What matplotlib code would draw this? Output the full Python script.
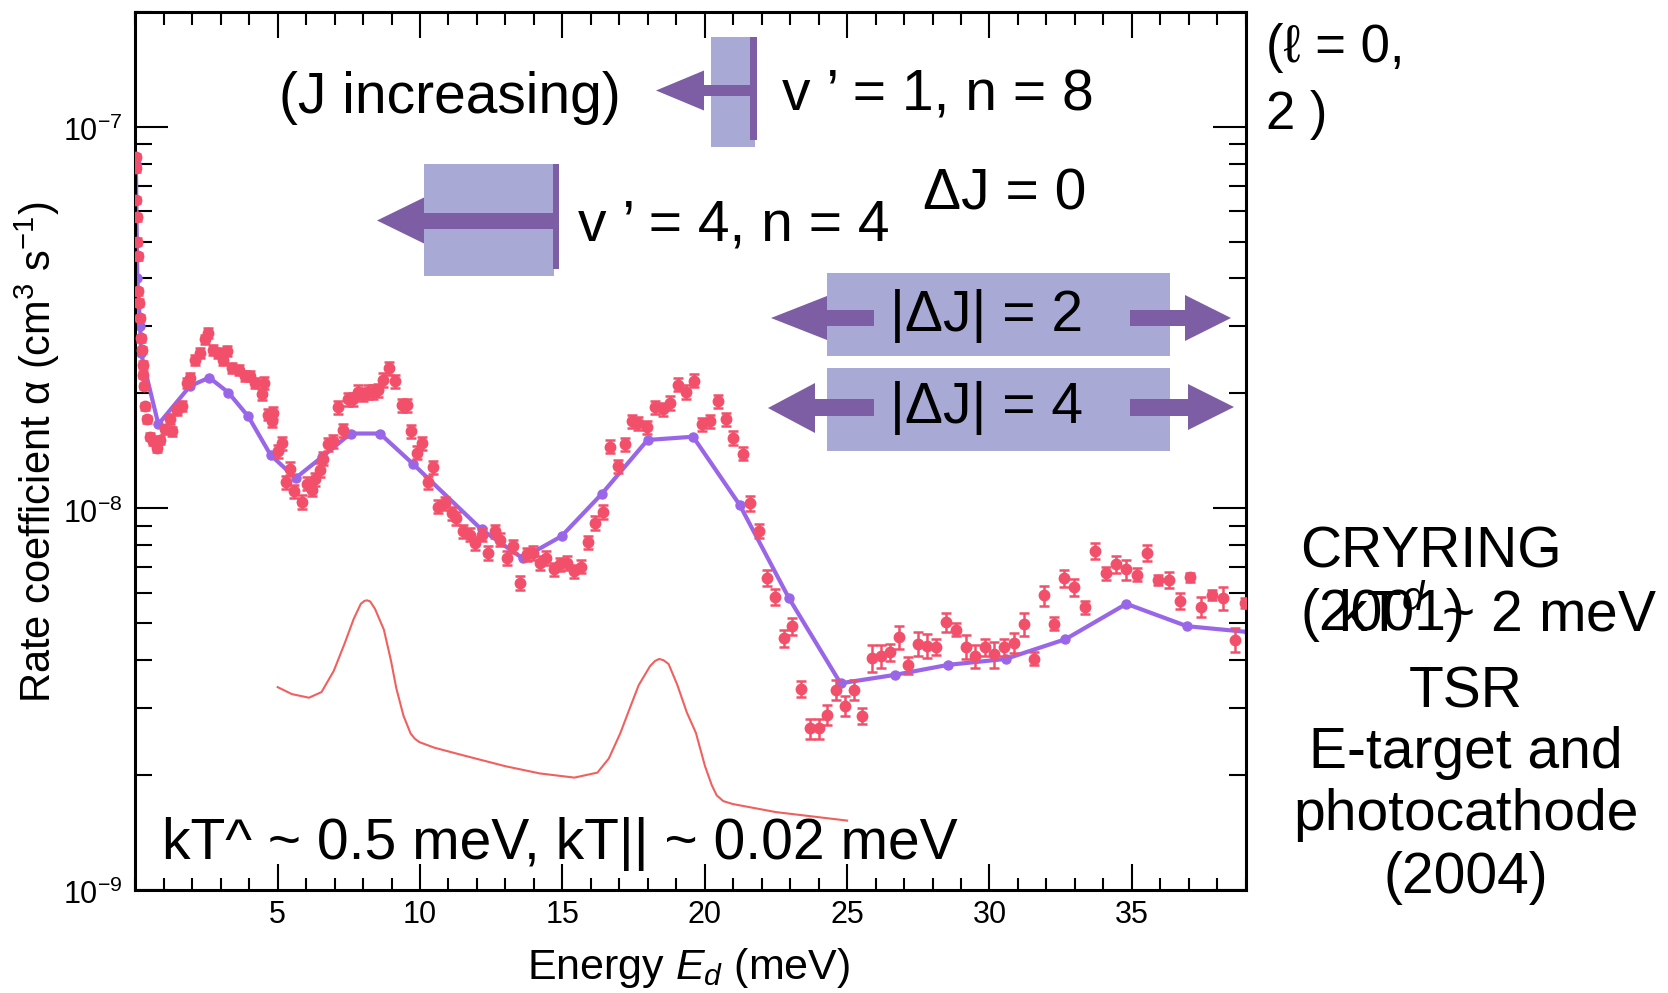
import matplotlib

matplotlib.use('agg')

from matplotlib import pyplot as plt
from matplotlib import patches
from matplotlib.ticker import MultipleLocator, NullFormatter, LogLocator
import numpy as np

plt.rcParams['font.family'] = ['Liberation Sans', 'DejaVu Sans']
plt.rcParams['mathtext.fontset'] = 'custom'
plt.rcParams['mathtext.rm'] = 'Liberation Sans'
plt.rcParams['mathtext.it'] = 'Liberation Sans:italic'

# measured rate coefficient (x in meV, y in 1e-9 cm^3/s, relative error in %)
meas_e = [0.01, 0.02, 0.03, 0.05, 0.06, 0.08, 0.10, 0.13, 0.17, 0.21, 0.24, 0.26, 0.28, 0.30,
          0.34, 0.40, 0.52, 0.63, 0.75, 0.87, 1.04, 1.22, 1.28, 1.45, 1.63, 1.80, 1.92, 2.10,
          2.28, 2.45, 2.56, 2.74, 2.91, 3.09, 3.21, 3.39, 3.63, 3.86, 4.04, 4.22, 4.45, 4.51,
          4.67, 4.79, 4.85, 5.02, 5.14, 5.28, 5.43, 5.59, 5.85, 6.03, 6.19, 6.31, 6.49, 6.60,
          6.78, 6.95, 7.13, 7.30, 7.48, 7.65, 7.83, 8.01, 8.18, 8.36, 8.53, 8.71, 8.92, 9.12,
          9.35, 9.53, 9.70, 9.88, 10.06, 10.27, 10.46, 10.64, 10.87, 11.11, 11.28, 11.52, 11.75,
          11.93, 12.16, 12.40, 12.63, 12.81, 13.06, 13.27, 13.51, 13.74, 13.98, 14.21, 14.44,
          14.70, 14.91, 15.15, 15.40, 15.67, 15.91, 16.14, 16.41, 16.67, 16.96, 17.19, 17.43,
          17.66, 17.96, 18.25, 18.54, 18.77, 19.07, 19.34, 19.62, 19.89, 20.18, 20.47, 20.74,
          21.00, 21.33, 21.59, 21.90, 22.19, 22.48, 22.77, 23.06, 23.37, 23.69, 24.00, 24.30,
          24.61, 24.92, 25.24, 25.54, 25.86, 26.18, 26.50, 26.83, 27.14, 27.49, 27.81, 28.14,
          28.47, 28.82, 29.17, 29.48, 29.83, 30.16, 30.51, 30.85, 31.20, 31.56, 31.91, 32.27,
          32.62, 32.97, 33.35, 33.72, 34.08, 34.44, 34.81, 35.18, 35.55, 35.92, 36.30, 36.68,
          37.03, 37.44, 37.83, 38.20, 38.61, 38.96]
meas_rate = [83.2, 77.8, 64.3, 57.9, 50.0, 45.7, 37.0, 34.6, 31.5, 27.9, 26.0, 23.8, 22.4, 20.9,
             18.5, 17.1, 15.4, 15.0, 14.4, 15.1, 16.1, 17.1, 15.9, 18.1, 18.5, 21.3, 22.0, 24.5,
             25.5, 27.7, 28.8, 26.0, 25.5, 24.5, 25.8, 23.3, 23.1, 22.2, 22.2, 21.3, 19.9, 21.3,
             17.6, 16.9, 17.8, 14.1, 14.8, 11.7, 12.7, 11.1, 10.4, 11.6, 11.2, 11.9, 12.6, 13.5,
             14.7, 15.0, 18.4, 16.0, 19.3, 19.3, 20.2, 19.9, 20.2, 20.2, 20.4, 21.7, 23.3, 21.5,
             18.6, 18.6, 15.9, 14.0, 14.8, 11.7, 12.8, 10.1, 10.3, 9.72, 9.43, 8.71, 8.53,
             8.11, 8.53, 7.64, 8.71, 8.28, 7.41, 7.96, 6.38, 7.57, 7.64, 7.19, 7.41,
             6.92, 7.13, 7.19, 6.85, 7.03, 8.15, 9.16, 9.79, 14.5, 12.9, 14.7, 16.9,
             16.7, 16.3, 18.4, 18.2, 18.9, 21.1, 20.2, 21.6, 16.6, 16.9, 19.1, 17.1,
             15.3, 13.9, 10.3, 8.73, 6.58, 5.86, 4.57, 4.91, 3.37, 2.65, 2.65, 2.88,
             3.34, 3.04, 3.34, 2.86, 4.06, 4.10, 4.20, 4.59, 3.88, 4.42, 4.37, 4.34,
             5.03, 4.81, 4.34, 4.10, 4.33, 4.14, 4.33, 4.45, 4.97, 4.04, 5.91, 4.99,
             6.55, 6.22, 5.51, 7.74, 6.75, 7.13, 6.92, 6.70, 7.64, 6.48, 6.50, 5.73,
             6.59, 5.52, 5.94, 5.81, 4.53, 5.65]
meas_err = [2, 2, 2, 2, 2, 2, 2, 2, 2, 2, 2, 2, 2, 2,
            2, 2, 2, 2.5, 2.5, 2.5, 2.5, 3, 3, 3, 3, 3, 3, 3,
            3, 3, 3, 3, 3, 3, 3, 3, 3, 3, 3, 3, 3.5, 3.5,
            3.5, 3.5, 3.5, 4, 4, 4, 4, 4, 4, 4, 4, 4, 4, 4,
            4, 4, 4, 4, 4, 4, 4, 4, 4, 4, 4, 4, 4, 4,
            4, 4, 4, 4, 4, 4, 4, 4, 4, 4, 4, 4, 4,
            4, 4, 4, 4, 4, 4, 4, 4, 4, 4, 4, 4,
            4, 4, 4, 4, 4, 4, 4, 4, 4, 4, 4, 4,
            4, 4, 4, 4, 4, 4, 4, 4, 4, 4, 4, 4,
            4, 4, 4.5, 4.5, 5, 5, 5, 5, 5, 6, 6, 6,
            6, 6, 6, 5, 8, 7, 5, 7, 5, 7, 7, 5,
            6, 4, 7, 7, 5, 8, 5, 6, 7, 4, 6, 4,
            5, 5, 4, 5, 4, 5, 6, 4, 5, 3, 5, 5,
            3, 6, 3, 7, 7, 3]

# theory curve (purple)
theo_e = [0.02, 0.07, 0.17, 0.20, 0.81, 1.92, 2.60, 3.27, 3.97, 4.75, 5.63, 6.54, 7.56, 8.59,
          9.74, 12.16, 13.60, 14.97, 16.38, 17.99, 19.59, 21.23, 22.96, 24.77, 26.67, 28.56,
          30.57, 32.67, 34.81, 36.94, 39.10]
theo_rate = [80.0, 40.0, 30.0, 25.5, 16.6, 20.9, 22.0, 20.1, 17.4, 13.8, 12.0, 13.6, 15.7, 15.7,
             13.1, 8.8, 7.4, 8.45, 10.9, 15.1, 15.4, 10.2, 5.81, 3.48, 3.66, 3.89,
             4.03, 4.54, 5.62, 4.91, 4.74]

# older storage-ring result (thin red curve)
old_e = [5.00, 5.50, 6.10, 6.54, 6.97, 7.35, 7.67, 7.92, 8.05, 8.14, 8.25, 8.42, 8.73, 8.98,
         9.17, 9.42, 9.67, 9.82, 9.98, 10.5, 11.55, 13.0, 14.21, 15.42, 16.23, 16.63, 17.03,
         17.35, 17.68, 18.08, 18.25, 18.40, 18.55, 18.73, 19.04, 19.37, 19.69, 20.01, 20.25,
         20.42, 20.65, 20.98, 22.5, 25.0]
old_rate = [3.40, 3.26, 3.19, 3.30, 3.75, 4.42, 5.13, 5.62, 5.72, 5.74, 5.70, 5.45, 4.81, 3.99,
            3.37, 2.86, 2.57, 2.49, 2.44, 2.36, 2.25, 2.11, 2.02, 1.97, 2.03, 2.21, 2.57,
            2.97, 3.44, 3.86, 3.98, 4.03, 4.00, 3.91, 3.44, 2.92, 2.58, 2.11, 1.88,
            1.77, 1.71, 1.68, 1.60, 1.52]

xtick_vals = [5, 10, 15, 20, 25, 30, 35]
ytick_vals = [1e-9, 1e-8, 1e-7]
ytick_text = ['$10^{-9}$', '$10^{-8}$', '$10^{-7}$']

W, H = 1668, 993
fig = plt.figure(figsize=(W / 100, H / 100), dpi=100)
ax = fig.add_axes([135.3 / W, 1 - 890 / H, 1110.4 / W, 878.3 / H])


def fpos(x, y):
    return (x / W, 1 - y / H)


red = '#F2506A'
purple = '#9A66E8'
lav = '#A9A9D5'
dark = '#7D5DA3'

y = np.array(meas_rate) * 1e-9
ax.errorbar(meas_e, y, yerr=y * np.array(meas_err) / 100, fmt='o', color=red,
            ms=7.5, capsize=3.5, elinewidth=1.8, capthick=1.8, zorder=3)
ax.plot(theo_e, np.array(theo_rate) * 1e-9, '-o', color=purple, lw=3, ms=6.5, zorder=2)
ax.plot(old_e, np.array(old_rate) * 1e-9, '-', color='#F0605E', lw=1.5, zorder=2)

ax.set_yscale('log')
ax.set_xlim(0, 39)
ax.set_ylim(1e-9, 2e-7)

ax.set_xticks(xtick_vals)
ax.xaxis.set_minor_locator(MultipleLocator(1))
ax.set_yticks(ytick_vals)
ax.yaxis.set_minor_locator(LogLocator(base=10, subs=range(2, 10), numticks=20))
ax.yaxis.set_minor_formatter(NullFormatter())
ax.set_xticklabels([])
ax.set_yticklabels([])

ax.tick_params(which='both', direction='in', top=True, right=True, width=1.5)
ax.tick_params(axis='x', which='major', length=18.5)
ax.tick_params(axis='x', which='minor', length=9)
ax.tick_params(axis='y', which='major', length=24)
ax.tick_params(axis='y', which='minor', length=12)
for s in ax.spines.values():
    s.set_linewidth(2.2)

# tick labels placed by hand so their size is fixed
for v in xtick_vals:
    ax.annotate(str(v), (v, 0), xycoords=('data', 'axes fraction'), xytext=(0, -7),
                textcoords='offset points', ha='center', va='top', fontsize=22)
for v, t in zip(ytick_vals, ytick_text):
    ax.annotate(t, (0, v), xycoords=('axes fraction', 'data'), xytext=(-9, -4),
                textcoords='offset points', ha='right', va='center', fontsize=22)

fig.text(*fpos(37, 452), 'Rate coefficient α (cm$^3$ s$^{-1}$)', rotation=90,
         ha='center', va='center', fontsize=30)
fig.text(*fpos(689, 968), 'Energy $E_d$ (meV)', ha='center', va='center', fontsize=31)

# arrows and bands marking the resonance series
def rect(x0, y0, x1, y1, color):
    fig.add_artist(patches.Rectangle(fpos(x0, y1), (x1 - x0) / W, (y1 - y0) / H,
                                     transform=fig.transFigure, color=color, lw=0, zorder=5))


def head(tip, base, yc, h):
    pts = [fpos(tip, yc), fpos(base, yc - h / 2), fpos(base, yc + h / 2)]
    fig.add_artist(patches.Polygon(pts, closed=True, transform=fig.transFigure,
                                   color=dark, lw=0, zorder=6))


# v'=1, n=8
rect(711, 37, 755, 147, lav)
rect(704, 85, 752, 96, dark)
rect(750, 37, 757, 140, dark)
head(656, 704, 90.5, 40)
# v'=4, n=4
rect(424, 164, 554, 276, lav)
rect(424, 213, 554, 229, dark)
rect(553, 164, 559, 269, dark)
head(377, 424, 220.5, 46)
# |dJ| = 2
rect(827, 273, 1170, 356, lav)
rect(827, 310, 874, 326, dark)
rect(1130, 310, 1185, 326, dark)
head(771, 827, 318, 44)
head(1231, 1185, 318, 46)
# |dJ| = 4
rect(827, 368, 1170, 451, lav)
rect(815, 399, 874, 416, dark)
rect(1130, 399, 1188, 416, dark)
head(768, 815, 408, 50)
head(1234, 1188, 407, 46)

big = 41
fig.text(*fpos(279, 98), '(J increasing)', fontsize=big, va='center', zorder=7)
fig.text(*fpos(782, 96), 'v ’ = 1, n = 8', fontsize=big, va='center', zorder=7)
fig.text(*fpos(1005, 195), 'ΔJ = 0', fontsize=big, va='center', ha='center', zorder=7)
fig.text(*fpos(578, 226), 'v ’ = 4, n = 4', fontsize=big, va='center', zorder=7)
fig.text(*fpos(987, 316), '|ΔJ| = 2', fontsize=big, va='center', ha='center', zorder=7)
fig.text(*fpos(987, 408), '|ΔJ| = 4', fontsize=big, va='center', ha='center', zorder=7)
fig.text(*fpos(162, 844), 'kT^ ~ 0.5 meV, kT|| ~ 0.02 meV', fontsize=big, va='center', zorder=7)

fig.text(*fpos(1266, 48), '(ℓ = 0,', fontsize=38, va='center')
fig.text(*fpos(1266, 115), '2 )', fontsize=38, va='center')
fig.text(*fpos(1300, 553), 'CRYRING', fontsize=41, va='center')
fig.text(*fpos(1300, 615), '(2001)', fontsize=41, va='center')
fig.text(*fpos(1338, 615), 'kT$^{d}$ ~ 2 meV', fontsize=41, va='center')
for txt, yy in [('TSR', 692), ('E-target and', 753), ('photocathode', 815), ('(2004)', 878)]:
    fig.text(*fpos(1466, yy), txt, fontsize=41, va='center', ha='center')

fig.savefig('out.png', dpi=100)
